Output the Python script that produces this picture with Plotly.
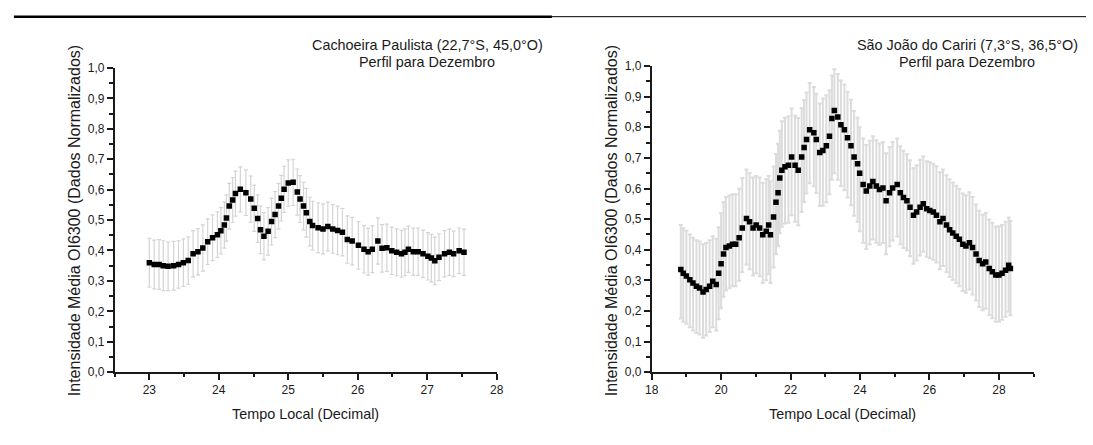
import plotly.graph_objects as go

# Cachoeira Paulista - December mean OI 630.0 nm profile
time_l = [
    23.00, 23.07, 23.14, 23.20, 23.27, 23.35, 23.42, 23.49, 23.56, 23.63,
    23.70, 23.77, 23.84, 23.91, 23.98, 24.03, 24.08, 24.11, 24.15, 24.20,
    24.24, 24.31, 24.39, 24.46, 24.51, 24.56, 24.60, 24.65, 24.71, 24.76,
    24.81, 24.86, 24.90, 24.94, 25.00, 25.07, 25.13, 25.17, 25.22, 25.26,
    25.31, 25.35, 25.43, 25.50, 25.57, 25.64, 25.71, 25.78, 25.85, 25.92,
    26.01, 26.09, 26.15, 26.21, 26.29, 26.35, 26.42, 26.49, 26.56, 26.63,
    26.68, 26.73, 26.80, 26.87, 26.94, 27.01, 27.06, 27.11, 27.17, 27.25,
    27.32, 27.38, 27.46, 27.53,
]
val_l = [
    0.360, 0.354, 0.354, 0.350, 0.348, 0.350, 0.354, 0.360, 0.367, 0.389,
    0.396, 0.408, 0.429, 0.442, 0.452, 0.465, 0.484, 0.507, 0.546, 0.566,
    0.587, 0.601, 0.590, 0.569, 0.539, 0.505, 0.468, 0.447, 0.463, 0.495,
    0.518, 0.546, 0.572, 0.601, 0.622, 0.624, 0.592, 0.569, 0.546, 0.524,
    0.495, 0.482, 0.475, 0.471, 0.479, 0.471, 0.466, 0.460, 0.436, 0.431,
    0.417, 0.404, 0.396, 0.404, 0.431, 0.407, 0.409, 0.399, 0.394, 0.389,
    0.394, 0.404, 0.396, 0.396, 0.389, 0.381, 0.375, 0.366, 0.378, 0.389,
    0.394, 0.389, 0.399, 0.394,
]
err_l = [
    0.080, 0.080, 0.082, 0.082, 0.080, 0.080, 0.078, 0.078, 0.078, 0.076,
    0.076, 0.076, 0.075, 0.075, 0.075, 0.076, 0.076, 0.076, 0.075, 0.074,
    0.074, 0.074, 0.075, 0.076, 0.076, 0.078, 0.078, 0.078, 0.078, 0.077,
    0.076, 0.075, 0.075, 0.076, 0.076, 0.076, 0.076, 0.077, 0.078, 0.080,
    0.080, 0.080, 0.082, 0.082, 0.080, 0.080, 0.080, 0.078, 0.078, 0.078,
    0.078, 0.078, 0.077, 0.077, 0.076, 0.078, 0.078, 0.078, 0.077, 0.077,
    0.077, 0.076, 0.078, 0.078, 0.078, 0.078, 0.078, 0.078, 0.077, 0.076,
    0.076, 0.075, 0.075, 0.076,
]

# São João do Cariri - December mean OI 630.0 nm profile
time_r = [
    18.84, 18.91, 19.00, 19.10, 19.19, 19.29, 19.38, 19.48, 19.57, 19.67,
    19.76, 19.86, 19.93, 20.00, 20.07, 20.14, 20.24, 20.33, 20.42, 20.52,
    20.61, 20.73, 20.82, 20.92, 21.01, 21.11, 21.20, 21.30, 21.37, 21.42,
    21.51, 21.58, 21.64, 21.69, 21.75, 21.84, 21.94, 22.03, 22.13, 22.22,
    22.32, 22.39, 22.46, 22.55, 22.67, 22.74, 22.84, 22.93, 23.03, 23.12,
    23.19, 23.26, 23.36, 23.45, 23.55, 23.64, 23.74, 23.83, 23.93, 23.99,
    24.09, 24.18, 24.28, 24.37, 24.47, 24.56, 24.66, 24.75, 24.85, 24.94,
    25.07, 25.16, 25.25, 25.35, 25.44, 25.54, 25.63, 25.73, 25.82, 25.92,
    26.01, 26.11, 26.20, 26.30, 26.39, 26.49, 26.58, 26.67, 26.77, 26.86,
    26.96, 27.05, 27.15, 27.24, 27.34, 27.43, 27.53, 27.62, 27.72, 27.81,
    27.91, 28.00, 28.09, 28.19, 28.28, 28.33,
]
val_r = [
    0.335, 0.323, 0.314, 0.302, 0.291, 0.281, 0.275, 0.262, 0.270, 0.281,
    0.297, 0.286, 0.323, 0.354, 0.386, 0.407, 0.412, 0.418, 0.418, 0.439,
    0.471, 0.502, 0.491, 0.471, 0.481, 0.471, 0.449, 0.460, 0.481, 0.449,
    0.507, 0.555, 0.586, 0.634, 0.660, 0.671, 0.676, 0.703, 0.676, 0.660,
    0.703, 0.734, 0.760, 0.792, 0.782, 0.760, 0.718, 0.724, 0.740, 0.771,
    0.829, 0.855, 0.834, 0.808, 0.792, 0.766, 0.740, 0.703, 0.681, 0.650,
    0.613, 0.592, 0.608, 0.623, 0.608, 0.597, 0.602, 0.560, 0.586, 0.602,
    0.613, 0.586, 0.571, 0.560, 0.539, 0.513, 0.523, 0.539, 0.550, 0.534,
    0.528, 0.523, 0.513, 0.491, 0.502, 0.481, 0.465, 0.455, 0.444, 0.434,
    0.418, 0.412, 0.423, 0.407, 0.386, 0.365, 0.354, 0.360, 0.339, 0.328,
    0.317, 0.317, 0.323, 0.333, 0.349, 0.339,
]
err_up_r = [
    0.146, 0.147, 0.148, 0.148, 0.148, 0.150, 0.152, 0.156, 0.152, 0.150,
    0.147, 0.150, 0.150, 0.165, 0.170, 0.165, 0.165, 0.163, 0.163, 0.160,
    0.163, 0.160, 0.160, 0.165, 0.160, 0.165, 0.170, 0.170, 0.160, 0.175,
    0.165, 0.158, 0.160, 0.155, 0.160, 0.160, 0.160, 0.158, 0.162, 0.170,
    0.160, 0.155, 0.154, 0.153, 0.150, 0.150, 0.160, 0.170, 0.165, 0.150,
    0.140, 0.135, 0.140, 0.145, 0.148, 0.150, 0.150, 0.150, 0.150, 0.150,
    0.150, 0.150, 0.148, 0.148, 0.150, 0.150, 0.150, 0.155, 0.150, 0.150,
    0.150, 0.152, 0.152, 0.152, 0.153, 0.153, 0.153, 0.155, 0.155, 0.155,
    0.158, 0.158, 0.160, 0.162, 0.160, 0.162, 0.165, 0.165, 0.165, 0.165,
    0.166, 0.166, 0.165, 0.165, 0.162, 0.162, 0.160, 0.160, 0.160, 0.160,
    0.159, 0.159, 0.158, 0.158, 0.156, 0.156,
]
err_dn_r = [
    0.160, 0.158, 0.156, 0.155, 0.155, 0.153, 0.152, 0.150, 0.150, 0.150,
    0.150, 0.150, 0.150, 0.145, 0.140, 0.140, 0.138, 0.137, 0.137, 0.140,
    0.145, 0.150, 0.155, 0.155, 0.158, 0.158, 0.158, 0.160, 0.160, 0.158,
    0.165, 0.170, 0.175, 0.180, 0.185, 0.185, 0.188, 0.190, 0.185, 0.180,
    0.180, 0.178, 0.176, 0.175, 0.175, 0.175, 0.175, 0.180, 0.185, 0.190,
    0.200, 0.205, 0.205, 0.200, 0.198, 0.195, 0.195, 0.192, 0.190, 0.190,
    0.190, 0.190, 0.190, 0.190, 0.185, 0.182, 0.180, 0.175, 0.175, 0.172,
    0.170, 0.168, 0.165, 0.162, 0.160, 0.159, 0.158, 0.158, 0.157, 0.157,
    0.156, 0.156, 0.155, 0.155, 0.155, 0.155, 0.154, 0.154, 0.153, 0.153,
    0.153, 0.153, 0.153, 0.153, 0.152, 0.152, 0.152, 0.152, 0.152, 0.152,
    0.152, 0.152, 0.152, 0.152, 0.152, 0.152,
]

station_l = ["Cachoeira Paulista (22,7°S, 45,0°O)", "Perfil para Dezembro"]
station_r = ["São João do Cariri (7,3°S, 36,5°O)", "Perfil para Dezembro"]
x_title = "Tempo Local (Decimal)"
y_title = "Intensidade Média OI6300 (Dados Normalizados)"

W, H = 1093, 445
FONT = "Liberation Sans, Arial, sans-serif"
INK = "#1a1a1a"


def px(v):
    return v / W


def py(v):
    return 1 - v / H


fig = go.Figure()

fig.add_trace(go.Scatter(
    x=time_l, y=val_l, mode="markers", xaxis="x", yaxis="y",
    marker=dict(symbol="square", size=5.5, color="black"),
    error_y=dict(type="data", array=err_l, color="#d4d4d4",
                 thickness=1.2, width=2),
))
fig.add_trace(go.Scatter(
    x=time_r, y=val_r, mode="markers", xaxis="x2", yaxis="y2",
    marker=dict(symbol="square", size=5.5, color="black"),
    error_y=dict(type="data", symmetric=False, array=err_up_r,
                 arrayminus=err_dn_r, color="#dcdcdc", thickness=2, width=2),
))

axis_common = dict(
    showline=True, linecolor=INK, linewidth=1.5, showgrid=False,
    zeroline=False, ticks="outside", ticklen=6, tickwidth=1.5,
    tickcolor=INK, tickfont=dict(family=FONT, size=12, color=INK),
)
minor_common = dict(ticks="outside", ticklen=3.5, tickwidth=1.5, tickcolor=INK)

fig.update_layout(
    width=W, height=H, margin=dict(l=0, r=0, t=0, b=0),
    paper_bgcolor="white", plot_bgcolor="white", showlegend=False,
    separators=",.", font=dict(family=FONT, color=INK),
    xaxis=dict(domain=[px(109), px(496)], range=[22.5, 28], dtick=1,
               tick0=0, anchor="y", minor=dict(dtick=0.5, **minor_common),
               **axis_common),
    yaxis=dict(domain=[py(377), py(63)], range=[0, 1.0], dtick=0.1,
               tick0=0, tickformat=".1f", anchor="x",
               minor=dict(dtick=0.05, **minor_common), **axis_common),
    xaxis2=dict(domain=[px(653), px(1040)], range=[18, 29], dtick=2,
                tick0=0, anchor="y2", minor=dict(dtick=1, **minor_common),
                **axis_common),
    yaxis2=dict(domain=[py(377), py(61)], range=[0, 1.0], dtick=0.1,
                tick0=0, tickformat=".1f", anchor="x2",
                minor=dict(dtick=0.05, **minor_common), **axis_common),
)

annotations = []
for cx, ycx in ((302.5, 68), (846.5, 612)):
    annotations.append(dict(
        text=x_title, x=px(cx), y=py(420), xref="paper", yref="paper",
        showarrow=False, xanchor="center", yanchor="middle",
        font=dict(family=FONT, size=14.4, color=INK)))
    annotations.append(dict(
        text=y_title, x=px(ycx), y=py(221), xref="paper", yref="paper",
        textangle=-90, showarrow=False, xanchor="center", yanchor="middle",
        font=dict(family=FONT, size=16, color=INK)))

for cx, lines in ((425.5, station_l), (972.5, station_r)):
    for ly, line in zip((39, 57), lines):
        annotations.append(dict(
            text=line, x=px(cx), y=py(ly), xref="paper", yref="paper",
            showarrow=False, xanchor="center", yanchor="middle",
            font=dict(family=FONT, size=14.4, color=INK)))

fig.update_layout(annotations=annotations)

# rule across the top of the page
fig.add_shape(type="line", xref="paper", yref="paper",
              x0=px(7), x1=px(552), y0=py(10), y1=py(10),
              line=dict(color="black", width=2.5))
fig.add_shape(type="line", xref="paper", yref="paper",
              x0=px(552), x1=1, y0=py(10), y1=py(10),
              line=dict(color="black", width=1))

fig.write_html("out.html")
